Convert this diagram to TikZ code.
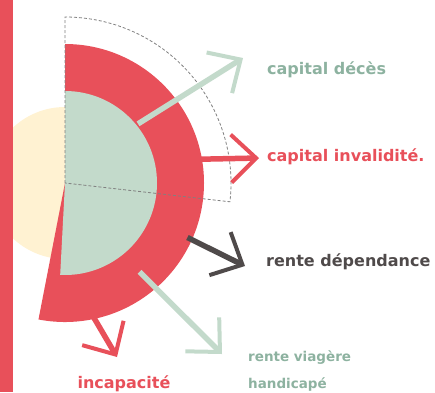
\documentclass[tikz,border=0pt]{standalone}
\usepackage{fontspec}
\setmainfont{DejaVu Sans}
\usetikzlibrary{arrows.meta}
\definecolor{ringred}{HTML}{E8505A}
\definecolor{palegreen}{HTML}{C3DACB}
\definecolor{textgreen}{HTML}{8DB2A0}
\definecolor{paleyellow}{HTML}{FFF2D2}
\definecolor{darkgrey}{HTML}{4F4A4A}

\begin{document}
\begin{tikzpicture}[x=1pt,y=1pt]
  \useasboundingbox (0,0) rectangle (435,-392);
  \tikzstyle{every node}=[font=\bfseries\fontsize{16}{27}\selectfont,inner sep=0pt]
  \tikzstyle{pointer}=[line width=5.5pt,-{Straight Barb[length=25pt,width=48pt,line width=4pt]}]
  \coordinate (C) at (65,-183);

%% discs and sectors
  \fill[paleyellow] (C) circle (76);
  \fill[ringred] (C) -- ++(90:139) arc[start angle=90,end angle=-101,radius=139] -- cycle;
  \fill[palegreen] (C) -- ++(90:92) arc[start angle=90,end angle=-93,radius=92] -- cycle;
  \draw[gray,densely dashed,line width=0.8pt] (C) -- ++(90:166) arc[start angle=90,end angle=-6.5,radius=166] -- cycle;
  \fill[ringred] (0,0) rectangle (13,-392);

%% labels
  \node[anchor=west,text=textgreen] (deces)  at (267,-70)  {capital décès};
  \node[anchor=west,text=ringred]   (inval)  at (267,-157) {capital invalidité.};
  \node[anchor=west,text=darkgrey]  (depend) at (266,-262) {rente dépendance};
  \node[anchor=base west,align=left,text=textgreen,font=\bfseries\fontsize{13.5}{27}\selectfont] (viager) at (248,-388) {rente viagère\\handicapé};
  \node[text=ringred] (incap) at (124,-384) {incapacité};

%% arrows
  \foreach \name/\ang/\rad/\tx/\ty/\col in {deces/39/94/243/-58/palegreen,
                                            inval/10/137/259/-158/ringred,
                                            depend/-24/134/245/-266/darkgrey,
                                            viager/-50/116/222/-354/palegreen,
                                            incap/-78/137/117/-357/ringred} {
    \coordinate (\name-from) at ([shift={(\ang:\rad)}]C);
    \coordinate (\name-to) at (\tx,\ty);
    \draw[pointer,draw=\col] (\name-from) -- (\name-to);
  }
\end{tikzpicture}
\end{document}
